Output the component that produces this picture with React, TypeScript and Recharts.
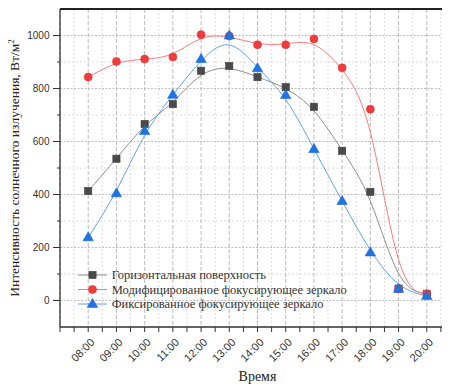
import React from 'react';
import { LineChart, Line, XAxis, YAxis, CartesianGrid, Legend, ReferenceLine, Label } from 'recharts';

const hours = [8, 9, 10, 11, 12, 13, 14, 15, 16, 17, 18, 19, 20];
const timeLabels = ['08:00', '09:00', '10:00', '11:00', '12:00', '13:00', '14:00', '15:00', '16:00', '17:00', '18:00', '19:00', '20:00'];
const horizontalSurface = [413, 535, 666, 741, 867, 885, 843, 805, 731, 565, 410, 45, 25];
const modifiedMirror = [843, 902, 911, 919, 1003, 998, 965, 965, 987, 878, 722, 44, 26];
const fixedMirror = [238, 404, 639, 776, 911, 1000, 876, 775, 571, 375, 181, 44, 17];
const seriesNames = ['Горизонтальная поверхность', 'Модифицированное фокусирующее зеркало', 'Фиксированное фокусирующее зеркало'];
const xTicks = [7, 7.5, 8, 8.5, 9, 9.5, 10, 10.5, 11, 11.5, 12, 12.5, 13, 13.5, 14, 14.5, 15, 15.5, 16, 16.5, 17, 17.5, 18, 18.5, 19, 19.5, 20, 20.5, 21];
const yTicks = [-100, 0, 100, 200, 300, 400, 500, 600, 700, 800, 900, 1000, 1100];
const yLabelTicks = [0, 200, 400, 600, 800, 1000];

const data = hours.map((h, i) => ({
  h,
  g: horizontalSurface[i],
  r: modifiedMirror[i],
  b: fixedMirror[i],
}));

const GRAY_FILL = '#4a4a4a';
const GRAY_LINE = '#8e8e8e';
const RED_FILL = '#f23c3c';
const RED_LINE = '#f47d7d';
const BLUE_FILL = '#1f74e3';
const BLUE_LINE = '#62a2ee';
const SANS = 'Liberation Sans, Arial, sans-serif';
const SERIF = 'Liberation Serif, Times New Roman, serif';

const square = (cx: number, cy: number, k?: any) => (
  <rect key={k} x={cx - 3.6} y={cy - 3.6} width={7.2} height={7.2} fill={GRAY_FILL} stroke="#3c3c3c" strokeWidth={0.6} />
);
const circle = (cx: number, cy: number, k?: any) => (
  <circle key={k} cx={cx} cy={cy} r={4} fill={RED_FILL} stroke="#e83434" strokeWidth={0.6} />
);
const triangle = (cx: number, cy: number, k?: any) => (
  <polygon key={k} points={`${cx},${cy - 5.6} ${cx - 5.2},${cy + 3.4} ${cx + 5.2},${cy + 3.4}`} fill={BLUE_FILL} stroke="#1a68d0" strokeWidth={0.6} />
);

const SquareDot = (p: any) => (p.cx == null || p.cy == null ? <g key={p.key} /> : square(p.cx, p.cy, p.key));
const CircleDot = (p: any) => (p.cx == null || p.cy == null ? <g key={p.key} /> : circle(p.cx, p.cy, p.key));
const TriangleDot = (p: any) => (p.cx == null || p.cy == null ? <g key={p.key} /> : triangle(p.cx, p.cy, p.key));

const XTick = (props: any) => {
  const { x, y, payload } = props;
  const v = payload.value;
  const idx = hours.indexOf(v);
  const ax = x + 7;
  const ay = y + 16;
  return (
    <g>
      <line x1={x} y1={y} x2={x} y2={y + 5} stroke="#333" strokeWidth={1} />
      {idx >= 0 && (
        <text x={ax} y={ay} transform={`rotate(-45 ${ax} ${ay})`} textAnchor="end" fontSize={11} style={{ fontFamily: SANS }} fill="#333">
          {timeLabels[idx]}
        </text>
      )}
    </g>
  );
};

const YTick = (props: any) => {
  const { x, y, payload } = props;
  const v = payload.value;
  const major = yLabelTicks.indexOf(v) >= 0;
  const edge = v === -100 || v === 1100;
  if (edge) return <g />;
  return (
    <g>
      <line x1={x - (major ? 7 : 3)} y1={y} x2={x} y2={y} stroke="#333" strokeWidth={1} />
      {major && (
        <text x={x - 10.5} y={y} dy="0.35em" textAnchor="end" fontSize={10} style={{ fontFamily: SANS }} fill="#333">
          {v}
        </text>
      )}
    </g>
  );
};

const vGrid = (p: any) => {
  const major = (p.index ?? 0) % 2 === 0;
  return (
    <line key={p.key} x1={p.x1} y1={p.y1} x2={p.x2} y2={p.y2}
      stroke={major ? '#bdbdbd' : '#dcdcdc'} strokeWidth={1} strokeDasharray={major ? '4 2' : '2 2'} />
  );
};
const hGrid = (p: any) => {
  const major = (p.index ?? 0) % 2 === 1;
  return (
    <line key={p.key} x1={p.x1} y1={p.y1} x2={p.x2} y2={p.y2}
      stroke={major ? '#bdbdbd' : '#dcdcdc'} strokeWidth={1} strokeDasharray={major ? '2 1.5' : '2 2'} />
  );
};

const legendItems = [
  { name: seriesNames[0], line: GRAY_LINE, mark: square },
  { name: seriesNames[1], line: RED_LINE, mark: circle },
  { name: seriesNames[2], line: BLUE_LINE, mark: triangle },
];

const renderLegend = () => (
  <svg width={330} height={46} style={{ display: 'block' }}>
    {legendItems.map((it, i) => {
      const cy = 7 + i * 14.5;
      return (
        <g key={i}>
          <line x1={0} y1={cy} x2={29} y2={cy} stroke={it.line} strokeWidth={1} />
          {it.mark(14.5, cy)}
          <text x={33.7} y={cy} dy="0.33em" fontSize={12.5} style={{ fontFamily: SERIF }} fill="#333">
            {it.name}
          </text>
        </g>
      );
    })}
  </svg>
);

export default function App() {
  return (
    <div style={{ width: 442, height: 378, overflow: 'hidden', position: 'relative' }}>
      <LineChart width={460} height={378} data={data} margin={{ top: 1, right: 13, bottom: 0, left: 0 }}>
        <CartesianGrid vertical={vGrid} horizontal={hGrid} />
        <XAxis
          dataKey="h"
          type="number"
          domain={[7, 21]}
          ticks={xTicks}
          interval={0}
          height={59}
          tickSize={0}
          tickMargin={0}
          tickLine={false}
          tick={<XTick />}
          axisLine={{ stroke: '#333', strokeWidth: 1.3 }}
        >
          <Label
            content={(p: any) => {
              const vb = p.viewBox || {};
              const cx = vb.x + vb.width / 2;
              return (
                <text x={cx} y={373} textAnchor="middle" fontSize={14} style={{ fontFamily: SERIF }} fill="#222">
                  Время
                </text>
              );
            }}
          />
        </XAxis>
        <YAxis
          type="number"
          domain={[-100, 1100]}
          ticks={yTicks}
          interval={0}
          width={52}
          tickSize={0}
          tickMargin={0}
          tickLine={false}
          tick={<YTick />}
          axisLine={{ stroke: '#333', strokeWidth: 1.3 }}
        >
          <Label
            content={(p: any) => {
              const vb = p.viewBox || {};
              const cx = 11;
              const cy = vb.y + vb.height / 2;
              return (
                <text x={cx} y={cy} transform={`rotate(-90 ${cx} ${cy})`} textAnchor="middle" fontSize={13.5} style={{ fontFamily: SERIF }} fill="#222">
                  Интенсивность солнечного излучения, Вт/м<tspan dy={-5} fontSize={9}>2</tspan>
                </text>
              );
            }}
          />
        </YAxis>
        <ReferenceLine y={1100} stroke="#222" strokeWidth={2} ifOverflow="visible" />
        <Legend
          layout="vertical"
          align="center"
          verticalAlign="middle"
          content={renderLegend}
          wrapperStyle={{ position: 'absolute', left: 70, top: 260, width: 330 }}
        />
        <Line type="basis" dataKey="g" name={seriesNames[0]} stroke={GRAY_LINE} strokeWidth={1} dot={<SquareDot />} activeDot={false} isAnimationActive={false} />
        <Line type="basis" dataKey="r" name={seriesNames[1]} stroke={RED_LINE} strokeWidth={1} dot={<CircleDot />} activeDot={false} isAnimationActive={false} />
        <Line type="basis" dataKey="b" name={seriesNames[2]} stroke={BLUE_LINE} strokeWidth={1} dot={<TriangleDot />} activeDot={false} isAnimationActive={false} />
      </LineChart>
    </div>
  );
}
